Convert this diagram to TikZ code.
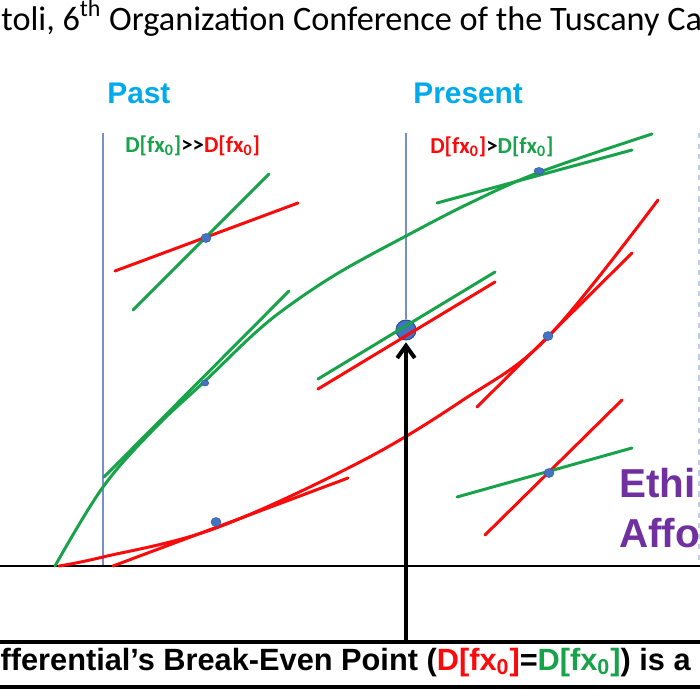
\documentclass[tikz,border=0pt]{standalone}
\usepackage{fontspec}
\setmainfont{Carlito}
\newfontfamily\arialfont{Liberation Sans}
\usetikzlibrary{arrows.meta, positioning, shapes.geometric, calc}
\definecolor{dgreen}{RGB}{24,163,74}
\definecolor{dred}{RGB}{250,10,10}
\definecolor{dotblue}{RGB}{68,114,196}
\definecolor{timeblue}{RGB}{0,170,235}
\definecolor{guideblue}{RGB}{118,142,206}
\definecolor{ethpurple}{RGB}{112,48,160}
\newcommand{\Dfx}[1]{\textcolor{#1}{D[fx\textsubscript{0}]}}
\tikzset{
    fline/.style={line width=1.7pt, line cap=round},
    guide/.style={guideblue, line width=1pt},
    dot/.style={ellipse, fill=dotblue, draw=dotblue!80!black, line width=0.3pt, inner sep=0pt, minimum width=0.2cm, minimum height=0.18cm},
    timelabel/.style={text=timeblue, inner sep=0pt, font=\arialfont\bfseries\fontsize{17}{20}\selectfont},
    dlabel/.style={inner sep=0pt, font=\bfseries\fontsize{13}{15}\selectfont},
}

\begin{document}
\begin{tikzpicture}[x=0.02cm, y=-0.02cm]
    \useasboundingbox (0,0) rectangle (700,700);
    \clip (0,0) rectangle (700,700);

    \node[anchor=base west, inner sep=0pt, font=\fontsize{19.5}{22}\selectfont] (title) at (1,30)
        {toli, 6\textsuperscript{th} Organization Conference of the Tuscany Ca};

    % time lines
    \node[timelabel, anchor=base west] (past) at (107,103) {Past};
    \node[timelabel, anchor=base west] (present) at (413,103) {Present};
    \node[dlabel, anchor=base west] (pastrule) at (125,152) {\Dfx{dgreen}{>}{>}\Dfx{dred}};
    \node[dlabel, anchor=base west] (presentrule) at (430,153) {\Dfx{dred}{>}\Dfx{dgreen}};

    \coordinate (pasttop) at (103,133);
    \coordinate (pastfoot) at (103,566);
    \coordinate (presenttop) at (406,133);
    \coordinate (futuretop) at (699,133);
    \coordinate (futurefoot) at (699,566);
    \coordinate (axisl) at (0,566);
    \coordinate (axisr) at (700,566);

    \node[circle, fill=dotblue, draw=dotblue!70!black, line width=0.6pt, minimum size=0.4cm, inner sep=0pt] (bep) at (406,330) {};

    \draw[guide] (pasttop) -- (pastfoot);
    \draw[guide] (presenttop) -- (bep);
    \draw[guideblue!45, line width=0.6pt, dashed] (futuretop) -- (futurefoot);
    \draw[line width=1.5pt] (axisl) -- (axisr);

    % the two curves
    \draw[fline, dgreen] plot[smooth, tension=0.6] coordinates {(55,566) (103,487) (155,428) (205,381) (255,333) (290,305) (340,272) (406,236) (470,203) (540,172) (652,134)};
    \draw[fline, dred] plot[smooth, tension=0.6] coordinates {(59,566) (103,557) (216,528) (360,462) (463,400) (548,337) (658,200)};

    % tangents on the curves
    \coordinate (g1a) at (104,477);  \coordinate (g1b) at (289,291);
    \coordinate (r1a) at (113,566);  \coordinate (r1b) at (348,478);
    \coordinate (r2a) at (477,407);  \coordinate (r2b) at (632,253);
    \coordinate (g2a) at (437,203);  \coordinate (g2b) at (632,150);
    \draw[fline, dgreen] (g1a) -- (g1b);
    \draw[fline, dred] (r1a) -- (r1b);
    \draw[fline, dred] (r2a) -- (r2b);
    \draw[fline, dgreen] (g2a) -- (g2b);

    % crossing tangents
    \coordinate (pra) at (115,271);  \coordinate (prb) at (298,203);
    \coordinate (pga) at (133,310);  \coordinate (pgb) at (269,174);
    \coordinate (nga) at (318,379);  \coordinate (ngb) at (495,272);
    \coordinate (nra) at (318,389);  \coordinate (nrb) at (495,282);
    \coordinate (fra) at (485,535);  \coordinate (frb) at (622,400);
    \coordinate (fga) at (457,497);  \coordinate (fgb) at (632,448);
    \draw[fline, dred] (pra) -- (prb);
    \draw[fline, dgreen] (pga) -- (pgb);
    \draw[fline, dgreen] (nga) -- (ngb);
    \draw[fline, dred] (nra) -- (nrb);
    \draw[fline, dred] (fra) -- (frb);
    \draw[fline, dgreen] (fga) -- (fgb);

    \node[dot] (pastx) at (206,238) {};
    \node[dot] (futurex) at (549,473) {};
    \node[dot, minimum width=0.15cm, minimum height=0.12cm] (g1) at (205,383) {};
    \node[dot] (r1) at (216,522) {};
    \node[dot] (r2) at (548,336) {};
    \node[dot, minimum width=0.2cm, minimum height=0.14cm] (g2) at (539,171) {};

    \node[anchor=base west, inner sep=0pt, text=ethpurple, font=\arialfont\bfseries\fontsize{23}{25}\selectfont] (ethi) at (619,497) {Ethi};
    \node[anchor=base west, inner sep=0pt, text=ethpurple, font=\arialfont\bfseries\fontsize{23}{25}\selectfont] (affo) at (619,547) {Affo};

    % bottom banner
    \coordinate (boxtl) at (0,642);  \coordinate (boxtr) at (700,642);
    \coordinate (boxbl) at (0,687);  \coordinate (boxbr) at (700,687);
    \coordinate (base) at (406,642);
    \draw[line width=1.8pt] (boxtl) -- (boxtr);
    \draw[line width=1.8pt] (boxbl) -- (boxbr);
    \draw[line width=2.3pt, -{Straight Barb[length=7pt, width=10pt]}, shorten >=1pt] (base) -- (bep);
    \node[anchor=base east, inner sep=0pt, font=\arialfont\bfseries\fontsize{17.5}{20}\selectfont] (bottom) at (691,670)
        {fferential’s Break-Even Point (\Dfx{dred}=\Dfx{dgreen}) is a};
\end{tikzpicture}
\end{document}
